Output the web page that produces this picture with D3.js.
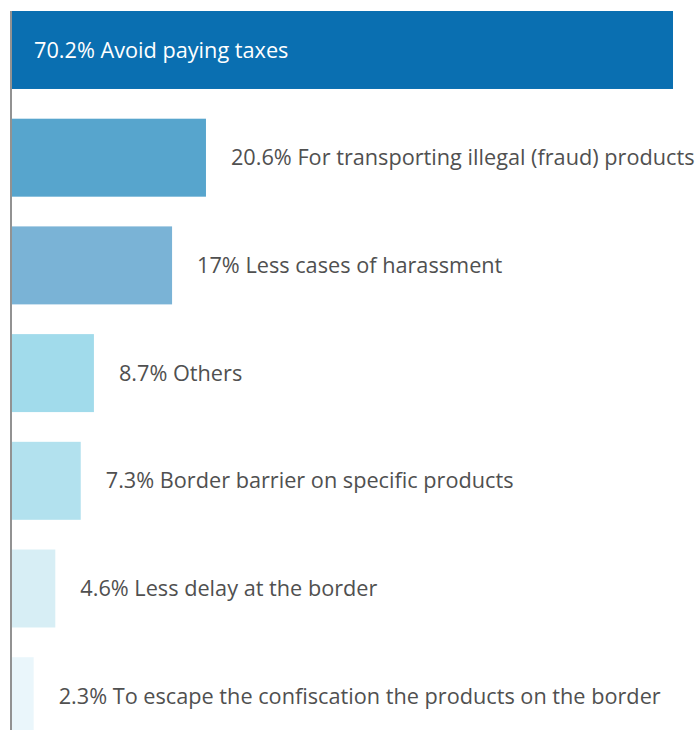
<!DOCTYPE html>
<html>
<head>
<meta charset="utf-8">
<script src="https://cdn.jsdelivr.net/npm/d3@7"></script>
<style>
  body { margin: 0; background: #fff; }
  text { font-family: "Open Sans", sans-serif; }
</style>
</head>
<body>
<div id="viz"></div>
<script>
var reasons = ['Avoid paying taxes', 'For transporting illegal (fraud) products',
      'Less cases of harassment', 'Others', 'Border barrier on specific products',
      'Less delay at the border', 'To escape the confiscation the products on the border'],
    percents = [70.2, 20.6, 17, 8.7, 7.3, 4.6, 2.3],
    valueLabels = ['70.2%', '20.6%', '17%', '8.7%', '7.3%', '4.6%', '2.3%'],
    barColors = ['#0a6fb1', '#57a5cd', '#7ab3d6', '#a1dbeb', '#b2e1ee', '#d7eef5', '#eaf6fb'];

var width = 696, height = 730,
    marginLeft = 12, marginTop = 11;

var xScale = d3.scaleLinear()
  .domain([0, d3.max(percents)])
  .range([marginLeft, 673]);

var yScale = d3.scaleBand()
  .domain(d3.range(percents.length))
  .range([marginTop, 735.2])
  .paddingInner(0.276)
  .paddingOuter(0)
  .align(0);

var svg = d3.select('#viz').append('svg')
  .attr('width', width)
  .attr('height', height);

svg.selectAll('rect').data(percents)
  .enter().append('rect')
    .attr('x', xScale(0))
    .attr('y', function(d, i) { return yScale(i); })
    .attr('width', function(d) { return xScale(d) - xScale(0); })
    .attr('height', yScale.bandwidth())
    .attr('fill', function(d, i) { return barColors[i]; });

svg.selectAll('text.lbl').data(percents)
  .enter().append('text')
    .attr('class', 'lbl')
    .attr('x', function(d, i) { return i === 0 ? xScale(0) + 22 : xScale(d) + 25; })
    .attr('y', function(d, i) { return yScale(i) + yScale.bandwidth() / 2; })
    .attr('dy', '0.35em')
    .style('font-size', '21.7px')
    .attr('fill', function(d, i) { return i === 0 ? '#ffffff' : '#505050'; })
    .text(function(d, i) { return valueLabels[i] + ' ' + reasons[i]; });

// y axis line
svg.append('line')
  .attr('x1', 11).attr('x2', 11)
  .attr('y1', marginTop).attr('y2', height)
  .attr('stroke', '#6e6e6e')
  .attr('stroke-width', 1.5);
</script>
</body>
</html>
